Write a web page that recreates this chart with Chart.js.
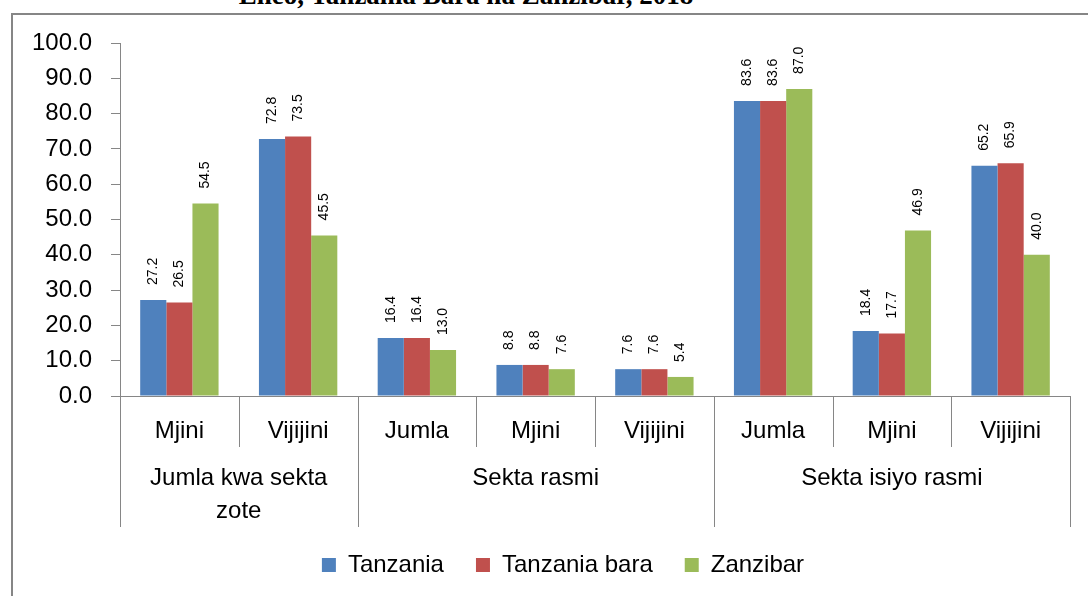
<!DOCTYPE html>
<html>
<head>
<meta charset="utf-8">
<script src="https://cdn.jsdelivr.net/npm/chart.js@4"></script>
<style>
  html, body { margin: 0; padding: 0; background: #fff; overflow: hidden; }
  #wrap { position: relative; width: 1088px; height: 596px; }
  #titre {
    position: absolute; left: 0; width: 932px; top: -20px; text-align: center;
    font: bold 27px "Liberation Serif", "DejaVu Serif", serif; color: #000; white-space: nowrap;
  }
  canvas { position: absolute; left: 0; top: 0; }
</style>
</head>
<body>
<div id="wrap">
  <div id="titre">Eneo, Tanzania Bara na Zanzibar, 2018</div>
  <canvas id="grafico" width="1088" height="596"></canvas>
</div>
<script>
// categorias (nivel 1 e nivel 2)
const subcategorias = ['Mjini', 'Vijijini', 'Jumla', 'Mjini', 'Vijijini', 'Jumla', 'Mjini', 'Vijijini'];
const grupos = [['Jumla kwa sekta', 'zote'], ['Sekta rasmi'], ['Sekta isiyo rasmi']];
const tamanhoGrupos = [2, 3, 3];

// series
const tanzania = [27.2, 72.8, 16.4, 8.8, 7.6, 83.6, 18.4, 65.2];
const tanzaniaBara = [26.5, 73.5, 16.4, 8.8, 7.6, 83.6, 17.7, 65.9];
const zanzibar = [54.5, 45.5, 13.0, 7.6, 5.4, 87.0, 46.9, 40.0];

const FONTE = 'Arial, "Liberation Sans", sans-serif';
const CINZA = '#868686';

// moldura do grafico + legenda deslocada para a direita
const moldura = {
    id: 'moldura',
    afterLayout(chart) {
        chart.legend.left = 56;
    },
    beforeDraw(chart) {
        const ctx = chart.ctx;
        ctx.save();
        ctx.strokeStyle = CINZA;
        ctx.lineWidth = 2;
        ctx.strokeRect(12, 14, 1200, 800);
        ctx.restore();
    }
};

// rotulos de valor (rodados 90 graus)
const rotulos = {
    id: 'rotulos',
    afterDatasetsDraw(chart) {
        const ctx = chart.ctx;
        ctx.save();
        ctx.font = '14px ' + FONTE;
        ctx.fillStyle = '#000';
        ctx.textAlign = 'left';
        ctx.textBaseline = 'middle';
        chart.data.datasets.forEach((ds, i) => {
            chart.getDatasetMeta(i).data.forEach((bar, j) => {
                ctx.save();
                ctx.translate(bar.x, bar.y - 15);
                ctx.rotate(-Math.PI / 2);
                ctx.fillText(ds.data[j].toFixed(1), 0, 0);
                ctx.restore();
            });
        });
        ctx.restore();
    }
};

// eixo x em dois niveis
const eixoDuplo = {
    id: 'eixoDuplo',
    afterDraw(chart) {
        const ctx = chart.ctx;
        const x = chart.scales.x;
        const base = chart.chartArea.bottom;
        const passo = x.width / subcategorias.length;
        ctx.save();
        ctx.strokeStyle = CINZA;
        ctx.lineWidth = 1;
        // separadores das subcategorias
        for (let i = 0; i <= subcategorias.length; i++) {
            const px = Math.round(x.left + i * passo) + 0.5;
            ctx.beginPath();
            ctx.moveTo(px, base);
            ctx.lineTo(px, base + 51);
            ctx.stroke();
        }
        // separadores dos grupos + rotulos
        ctx.fillStyle = '#000';
        ctx.font = '24px ' + FONTE;
        ctx.textAlign = 'center';
        ctx.textBaseline = 'middle';
        let ini = 0;
        const limites = [0];
        tamanhoGrupos.forEach(n => { ini += n; limites.push(ini); });
        limites.forEach(k => {
            const px = Math.round(x.left + k * passo) + 0.5;
            ctx.beginPath();
            ctx.moveTo(px, base);
            ctx.lineTo(px, base + 131);
            ctx.stroke();
        });
        grupos.forEach((linhas, g) => {
            const cx = x.left + (limites[g] + limites[g + 1]) / 2 * passo;
            linhas.forEach((t, l) => ctx.fillText(t, cx, base + 82 + l * 33));
        });
        ctx.restore();
    }
};

new Chart(document.getElementById('grafico'), {
    type: 'bar',
    data: {
        labels: subcategorias,
        datasets: [
            { label: 'Tanzania', data: tanzania, backgroundColor: '#4F81BD' },
            { label: 'Tanzania bara', data: tanzaniaBara, backgroundColor: '#C0504D' },
            { label: 'Zanzibar', data: zanzibar, backgroundColor: '#9BBB59' }
        ]
    },
    options: {
        responsive: false,
        animation: false,
        devicePixelRatio: 1,
        layout: { padding: { left: 0, right: 18, top: 43, bottom: 9 } },
        datasets: { bar: { categoryPercentage: 0.66, barPercentage: 1.0 } },
        plugins: {
            legend: {
                position: 'bottom',
                labels: {
                    boxWidth: 14, boxHeight: 14, padding: 32,
                    color: '#000', font: { size: 24, family: FONTE }
                }
            },
            title: { display: false },
            tooltip: { enabled: false }
        },
        scales: {
            x: {
                grid: { display: false, drawTicks: false },
                border: { color: CINZA, width: 1 },
                ticks: { color: '#000', font: { size: 24, family: FONTE }, padding: 21, maxRotation: 0 },
                afterFit(s) { s.height = 125; }
            },
            y: {
                min: 0, max: 100,
                grid: { display: true, drawOnChartArea: false, drawTicks: true, tickLength: 9, color: CINZA },
                border: { color: CINZA, width: 1 },
                ticks: {
                    stepSize: 10, color: '#000', padding: 19,
                    font: { size: 24, family: FONTE },
                    callback: v => v.toFixed(1)
                },
                afterFit(s) { s.width = 120; }
            }
        }
    },
    plugins: [moldura, rotulos, eixoDuplo]
});
</script>
</body>
</html>
